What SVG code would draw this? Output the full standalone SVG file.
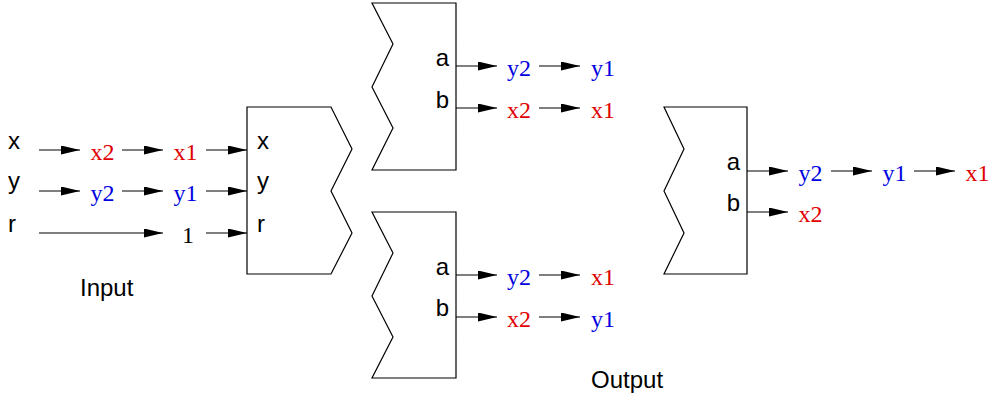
<svg xmlns="http://www.w3.org/2000/svg" width="996" height="399" viewBox="0 0 996 399">
<defs>
<marker id="ah" markerUnits="userSpaceOnUse" markerWidth="20" markerHeight="10" refX="19" refY="4.5" orient="auto">
<path d="M0,0 L19,4.5 L0,9 Z" fill="#000"/>
</marker>
<style>
.blk{fill:#fff;stroke:#000;stroke-width:1.2}
.lab{font-family:"Liberation Sans",Arial,sans-serif;font-size:24px;fill:#000}
.v{font-family:"Liberation Serif","Times New Roman",serif;font-size:24px}
.r{fill:#e00000}
.b{fill:#0000e0}
.k{fill:#000}
.c line{stroke:#000;stroke-width:1.2;marker-end:url(#ah)}
</style>
</defs>
<rect width="996" height="399" fill="#fff"/>

<g id="input-labels">
<text class="lab" x="8" y="148.5">x</text>
<text class="lab" x="8" y="189">y</text>
<text class="lab" x="8" y="232">r</text>
<text class="lab" x="80" y="296">Input</text>
</g>

<g id="input-block">
<path class="blk" d="M247,107 L331,107 L352,149 L331,191 L352,233 L331,274 L247,274 Z"/>
<text class="lab" x="257" y="148.5">x</text>
<text class="lab" x="257" y="189">y</text>
<text class="lab" x="257" y="232">r</text>
</g>

<g id="top-block">
<path class="blk" d="M372,3 L456,3 L456,170 L372,170 L393,128 L372,87 L393,44 Z"/>
<text class="lab" x="449" y="66" text-anchor="end">a</text>
<text class="lab" x="449" y="108" text-anchor="end">b</text>
</g>

<g id="bottom-block">
<path class="blk" d="M372,212 L456,212 L456,378 L372,378 L393,337 L372,296 L393,253 Z"/>
<text class="lab" x="449" y="275" text-anchor="end">a</text>
<text class="lab" x="449" y="316" text-anchor="end">b</text>
</g>

<g id="right-block">
<path class="blk" d="M664,107 L747,107 L747,274 L664,274 L684,233 L664,191 L684,149 Z"/>
<text class="lab" x="740" y="170" text-anchor="end">a</text>
<text class="lab" x="740" y="211" text-anchor="end">b</text>
</g>

<g id="values">
<text class="v r" x="90.5" y="160">x2</text>
<text class="v r" x="173.5" y="160">x1</text>
<text class="v b" x="90.5" y="201">y2</text>
<text class="v b" x="173.5" y="201">y1</text>
<text class="v k" x="182" y="243">1</text>

<text class="v b" x="507" y="76">y2</text>
<text class="v b" x="591" y="76">y1</text>
<text class="v r" x="507" y="118">x2</text>
<text class="v r" x="591" y="118">x1</text>

<text class="v b" x="507" y="285">y2</text>
<text class="v r" x="591" y="285">x1</text>
<text class="v r" x="507" y="327">x2</text>
<text class="v b" x="591" y="327">y1</text>

<text class="v b" x="798.5" y="181">y2</text>
<text class="v b" x="882.5" y="181">y1</text>
<text class="v r" x="965.5" y="181">x1</text>
<text class="v r" x="798.5" y="222">x2</text>

<text class="lab" x="591" y="388">Output</text>
</g>

<g id="connectors" class="c">
<line x1="39" y1="150" x2="80" y2="150"/>
<line x1="122" y1="150" x2="163" y2="150"/>
<line x1="206" y1="150" x2="247" y2="150"/>
<line x1="39" y1="191" x2="80" y2="191"/>
<line x1="122" y1="191" x2="163" y2="191"/>
<line x1="206" y1="191" x2="247" y2="191"/>
<line x1="39" y1="233" x2="163" y2="233"/>
<line x1="206" y1="233" x2="247" y2="233"/>

<line x1="456" y1="66" x2="497" y2="66"/>
<line x1="539" y1="66" x2="580" y2="66"/>
<line x1="456" y1="108" x2="497" y2="108"/>
<line x1="539" y1="108" x2="580" y2="108"/>

<line x1="456" y1="275" x2="497" y2="275"/>
<line x1="539" y1="275" x2="580" y2="275"/>
<line x1="456" y1="317" x2="497" y2="317"/>
<line x1="539" y1="317" x2="580" y2="317"/>

<line x1="747" y1="171" x2="788" y2="171"/>
<line x1="831" y1="171" x2="872" y2="171"/>
<line x1="914" y1="171" x2="955" y2="171"/>
<line x1="747" y1="212" x2="788" y2="212"/>
</g>
</svg>
